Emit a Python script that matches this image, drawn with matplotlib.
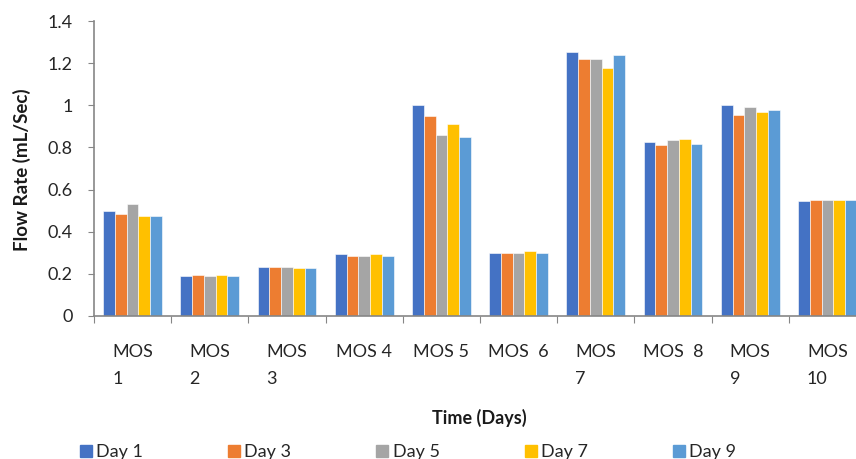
import numpy as np
import matplotlib
matplotlib.use("Agg")
import matplotlib.pyplot as plt
from matplotlib.lines import Line2D

plt.rcParams['font.family'] = ['Lato', 'DejaVu Sans']

# data
sites = ["MOS\n1", "MOS\n2", "MOS\n3", "MOS 4", "MOS 5", "MOS  6", "MOS\n7", "MOS  8", "MOS\n9", "MOS\n10"]
days = ["Day 1", "Day 3", "Day 5", "Day 7", "Day 9"]
day1 = [0.50, 0.188, 0.232, 0.294, 1.00, 0.300, 1.253, 0.826, 1.000, 0.544]
day3 = [0.484, 0.195, 0.232, 0.286, 0.948, 0.300, 1.221, 0.810, 0.955, 0.552]
day5 = [0.530, 0.188, 0.232, 0.286, 0.857, 0.300, 1.221, 0.834, 0.993, 0.552]
day7 = [0.476, 0.195, 0.226, 0.294, 0.910, 0.308, 1.177, 0.842, 0.970, 0.552]
day9 = [0.476, 0.188, 0.226, 0.286, 0.850, 0.300, 1.237, 0.818, 0.979, 0.552]
colors = ["#4472C4", "#ED7D31", "#A5A5A5", "#FFC000", "#5B9BD5"]

series = [day1, day3, day5, day7, day9]

fig = plt.figure(figsize=(8.56, 4.59), dpi=100)
ax = fig.add_axes([94/856, 143/459, 772/856, 295/459])

x = np.arange(len(sites))
w = 0.152
for i, vals in enumerate(series):
    ax.bar(x + (i - 2) * w, vals, w, color=colors[i], edgecolor='white', linewidth=0.4, label=days[i])

ax.set_xlim(-0.5, len(sites) - 0.5)
ax.set_ylim(0, 1.4)
ax.set_yticks(np.arange(0, 1.41, 0.2))
ax.set_yticklabels(["0", "0.2", "0.4", "0.6", "0.8", "1", "1.2", "1.4"])

# category boundary ticks, labels at centers
ax.set_xticks(np.arange(len(sites) + 1) - 0.5)
ax.set_xticklabels([])
ax.set_xticks(x, minor=True)
ax.set_xticklabels(sites, minor=True, linespacing=1.85, ha='center', multialignment='left')
ax.tick_params(axis='x', which='major', length=5, color='#868686', direction='out')
ax.tick_params(axis='x', which='minor', length=0, pad=20, labelsize=13, labelcolor='#262626')
ax.tick_params(axis='y', length=4.3, color='#868686', labelsize=13, labelcolor='#262626', pad=11)

for s in ['top', 'right']:
    ax.spines[s].set_visible(False)
for s in ['left', 'bottom']:
    ax.spines[s].set_color('#868686')
    ax.spines[s].set_linewidth(1.2)

fig.text(22/856, 1 - 170/459, "Flow Rate (mL/Sec)", rotation=90, ha='center', va='center',
         fontsize=13.5, fontweight='bold', color='#1a1a1a')
fig.text(479/856, 1 - 418/459, "Time (Days)", ha='center', va='center',
         fontsize=13, fontweight='bold', color='#1a1a1a')

handles = [Line2D([], [], marker='s', linestyle='none', markersize=8, color=c) for c in colors]
fig.legend(handles, days, loc='center left', bbox_to_anchor=(79/856, 1 - 452/459), ncol=5,
           frameon=False, fontsize=13, handletextpad=0.2, columnspacing=4.66, handlelength=0.75,
           borderaxespad=0, borderpad=0, labelcolor='#262626')

fig.savefig("out.png", dpi=100)
